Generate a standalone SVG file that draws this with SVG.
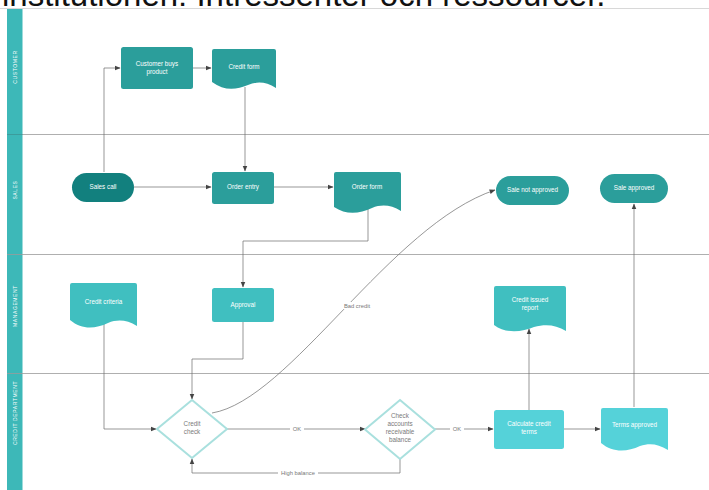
<svg xmlns="http://www.w3.org/2000/svg" width="709" height="490" viewBox="0 0 709 490">
<style>
.lane{stroke:#9a9a9a;stroke-width:0.8;fill:none}
.lt{fill:#fff;font-family:"Liberation Sans",Arial,sans-serif;font-size:5px;letter-spacing:0.6px;text-anchor:middle}
.nt{fill:#fff;font-family:"Liberation Sans",Arial,sans-serif;font-size:6.3px;text-anchor:middle}
.dt{fill:#7a7a7a;font-family:"Liberation Sans",Arial,sans-serif;font-size:6.3px;text-anchor:middle}
.el{fill:#777;font-family:"Liberation Sans",Arial,sans-serif;font-size:5.8px;text-anchor:middle}
.c{stroke:#6a6a6a;stroke-width:0.7;fill:none;marker-end:url(#ah)}
.t1{fill:#2b9e9b}
.t0{fill:#12807e}
.t2{fill:#40bfc0}
.t3{fill:#55d2d9}
.dia{fill:#fff;stroke:#a9e0de;stroke-width:2}
</style>
<defs>
<marker id="ah" viewBox="0 0 10 10" refX="9" refY="5" markerWidth="6" markerHeight="6" orient="auto" markerUnits="userSpaceOnUse">
<path d="M0,1 L10,5 L0,9 z" fill="#444"/>
</marker>
</defs>
<rect width="709" height="490" fill="#fff"/>
<text x="2" y="6" font-family="'Liberation Sans',Arial,sans-serif" font-size="33" fill="#111">institutionen: Intressenter och ressourcer.</text>
<line x1="0" y1="8.5" x2="709" y2="8.5" stroke="#d8d8d8" stroke-width="1"/>

<g id="lanes">
<rect x="7" y="9" width="15.5" height="481" fill="#3db8b8"/>
<line class="lane" x1="7" y1="134.5" x2="709" y2="134.5"/>
<line class="lane" x1="7" y1="254.5" x2="709" y2="254.5"/>
<line class="lane" x1="7" y1="373.5" x2="709" y2="373.5"/>
<line x1="7" y1="134.5" x2="22.5" y2="134.5" stroke="#2a9a9a" stroke-width="0.8"/>
<text class="lt" transform="translate(16.5,67) rotate(-90)">CUSTOMER</text>
<text class="lt" transform="translate(16.5,190) rotate(-90)">SALES</text>
<text class="lt" transform="translate(16.5,306) rotate(-90)">MANAGEMENT</text>
<text class="lt" transform="translate(16.5,413) rotate(-90)">CREDIT DEPARTMENT</text>
</g>

<g id="connectors">
<path class="c" d="M104,172 V68 H120"/>
<path class="c" d="M193,68 H211"/>
<path class="c" d="M245,87 V171"/>
<path class="c" d="M134,187 H211"/>
<path class="c" d="M274,187 H333"/>
<path class="c" d="M368,209 V241 H243 V287"/>
<path class="c" d="M243,322 V359 H192 V399"/>
<path class="c" d="M104,322 V429 H156"/>
<path class="c" d="M227,429 H365"/>
<path class="c" d="M435,429 H493"/>
<path class="c" d="M400,459 V473 H192 V459"/>
<path class="c" d="M212,413 C290,400 390,225 495,190"/>
<path class="c" d="M529,410 V329"/>
<path class="c" d="M564,429 H600"/>
<path class="c" d="M634,407 V204"/>
<rect x="290" y="425.5" width="14" height="7" fill="#fff"/>
<text class="el" x="297" y="431">OK</text>
<rect x="450" y="425.5" width="14" height="7" fill="#fff"/>
<text class="el" x="457" y="431">OK</text>
<rect x="278" y="469.5" width="40" height="7" fill="#fff"/>
<text class="el" x="298" y="475">High balance</text>
<rect x="342" y="302" width="30" height="7" fill="#fff"/>
<text class="el" x="357" y="308">Bad credit</text>
</g>

<g id="customer-buys-product">
<rect class="t1" x="121" y="47" width="72" height="42" rx="2.5"/>
<text class="nt" x="157" y="66">Customer buys</text>
<text class="nt" x="157" y="74">product</text>
</g>
<g id="credit-form">
<path class="t1" d="M212,82 V51 Q212,49 214,49 H274 Q276,49 276,51 V88 C266,82 258,81 248,85 C236,90 224,91 212,82 Z"/>
<text class="nt" x="244" y="69">Credit form</text>
</g>
<g id="sales-call">
<rect class="t0" x="72" y="173" width="62" height="29" rx="14.5"/>
<text class="nt" x="103" y="189">Sales call</text>
</g>
<g id="order-entry">
<rect class="t1" x="212" y="172" width="62" height="32" rx="2.5"/>
<text class="nt" x="243" y="189">Order entry</text>
</g>
<g id="order-form">
<path class="t1" d="M334,207 V174 Q334,172 336,172 H399 Q401,172 401,174 V211 C391,205 382,204 372,208 C359,214 346,215 334,207 Z"/>
<text class="nt" x="367" y="189">Order form</text>
</g>
<g id="sale-not-approved">
<rect class="t1" x="496" y="176" width="73" height="29" rx="14.5"/>
<text class="nt" x="532.5" y="192">Sale not approved</text>
</g>
<g id="sale-approved">
<rect class="t1" x="600" y="174" width="68" height="29" rx="14.5"/>
<text class="nt" x="634" y="190">Sale approved</text>
</g>
<g id="credit-criteria">
<path class="t2" d="M70,320 V285 Q70,283 72,283 H135 Q137,283 137,285 V326 C127,320 118,319 108,323 C95,329 82,330 70,320 Z"/>
<text class="nt" x="103.5" y="304">Credit criteria</text>
</g>
<g id="approval">
<rect class="t2" x="212" y="288" width="62" height="34" rx="2.5"/>
<text class="nt" x="243" y="307">Approval</text>
</g>
<g id="credit-issued-report">
<path class="t2" d="M494,325 V288 Q494,286 496,286 H564 Q566,286 566,288 V331 C556,325 546,324 534,327 C522,332 506,334 494,325 Z"/>
<text class="nt" x="530" y="302">Credit issued</text>
<text class="nt" x="530" y="310">report</text>
</g>
<g id="credit-check">
<polygon class="dia" points="192,400 227,429 192,458 157,429"/>
<text class="dt" x="192" y="426">Credit</text>
<text class="dt" x="192" y="434">check</text>
</g>
<g id="check-accounts-receivable-balance">
<polygon class="dia" points="400,400 435,429.5 400,459 365,429.5"/>
<text class="dt" x="400" y="418">Check</text>
<text class="dt" x="400" y="426">accounts</text>
<text class="dt" x="400" y="434">receivable</text>
<text class="dt" x="400" y="442">balance</text>
</g>
<g id="calculate-credit-terms">
<rect class="t3" x="494" y="410" width="70" height="39" rx="2.5"/>
<text class="nt" x="529" y="426">Calculate credit</text>
<text class="nt" x="529" y="434">terms</text>
</g>
<g id="terms-approved">
<path class="t3" d="M601,443 V410 Q601,408 603,408 H666 Q668,408 668,410 V450 C658,444 650,443 640,446 C627,452 613,453 601,443 Z"/>
<text class="nt" x="634.5" y="427">Terms approved</text>
</g>
</svg>
